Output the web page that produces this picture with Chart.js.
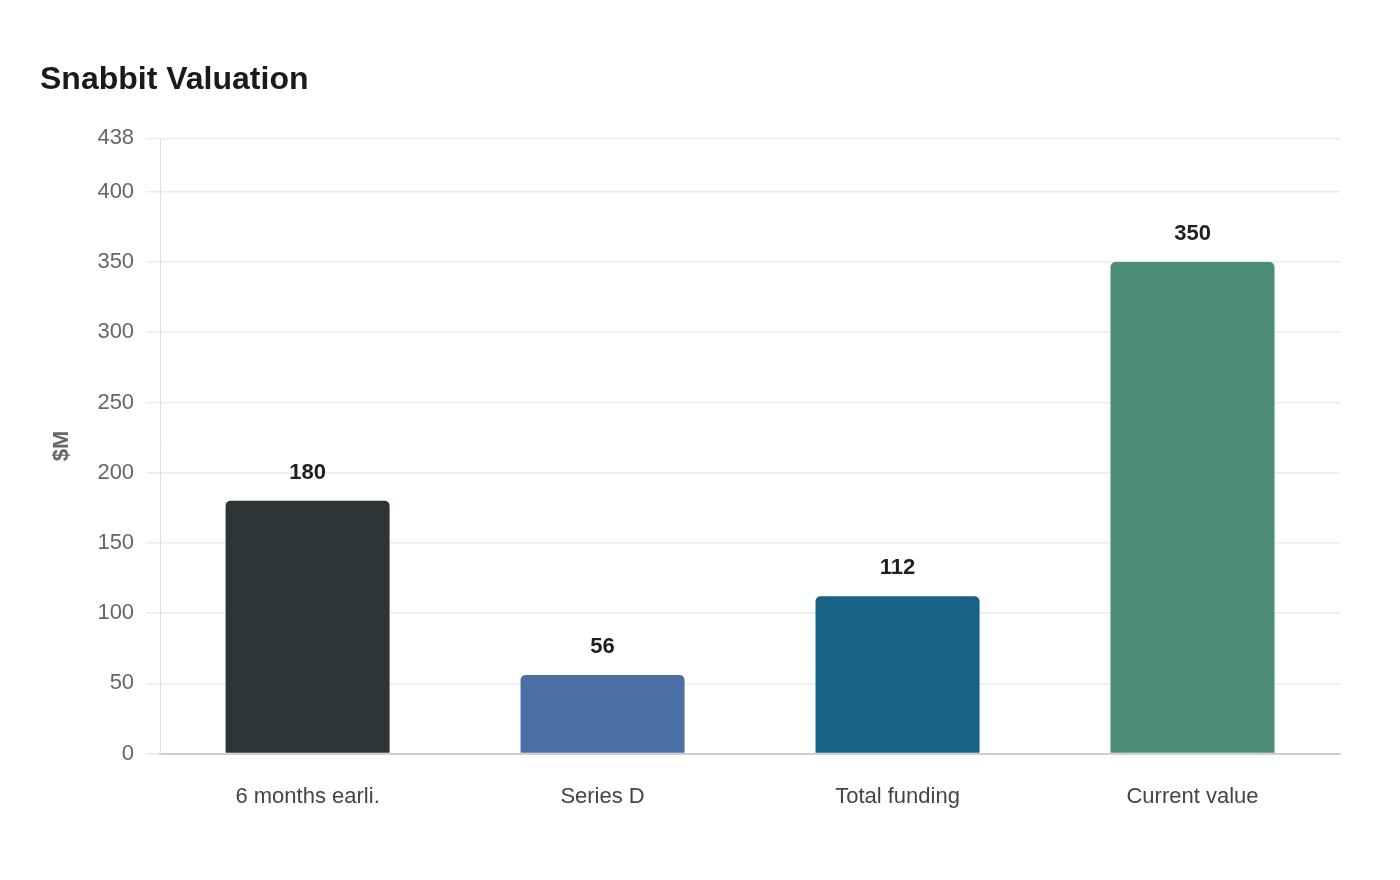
<!DOCTYPE html>
<html>
<head>
<meta charset="utf-8">
<script src="https://cdn.jsdelivr.net/npm/chart.js@4/dist/chart.umd.min.js"></script>
<style>
  html, body { margin: 0; padding: 0; background: #fff; }
  #wrap { width: 1400px; height: 880px; position: relative; }
</style>
</head>
<body>
<div id="wrap"><canvas id="myChart"></canvas></div>
<script>
// chart data
var labels = ["6 months earli.", "Series D", "Total funding", "Current value"];
var values = [180, 56, 112, 350];
var barColors = ["#2e3537", "#4a6fa5", "#186187", "#4e8c7a"];
var yMax = 438;

var FONT = "'Liberation Sans', Arial, sans-serif";

// value labels over each bar
var valueLabels = {
  id: "valueLabels",
  afterDatasetsDraw: function (chart) {
    var ctx = chart.ctx;
    var meta = chart.getDatasetMeta(0);
    ctx.save();
    ctx.font = "bold 22px " + FONT;
    ctx.fillStyle = "#1f1f1f";
    ctx.textAlign = "center";
    ctx.textBaseline = "middle";
    meta.data.forEach(function (bar, i) {
      ctx.fillText(values[i], bar.x, bar.y - 28);
    });
    ctx.restore();
  }
};

var ctx = document.getElementById("myChart").getContext("2d");
var myChart = new Chart(ctx, {
  type: "bar",
  data: {
    labels: labels,
    datasets: [
      {
        label: "Valuation",
        data: values,
        backgroundColor: barColors,
        borderRadius: { topLeft: 5, topRight: 5 },
        borderSkipped: false,
        categoryPercentage: 0.8,
        barPercentage: 0.695,
      },
    ],
  },
  options: {
    responsive: true,
    maintainAspectRatio: false,
    animation: false,
    layout: { padding: { left: 40, right: 60, top: 61, bottom: 48 } },
    plugins: {
      legend: { display: false },
      tooltip: { enabled: false },
      title: {
        display: true,
        text: "Snabbit Valuation",
        align: "start",
        color: "#1a1a1a",
        font: { family: FONT, size: 32, weight: "bold" },
        padding: { top: 0, bottom: 39 },
      },
    },
    scales: {
      x: {
        grid: { display: false },
        border: { display: true, color: "#cfcfcf", width: 2 },
        ticks: {
          color: "#444",
          padding: 22,
          font: { family: FONT, size: 22 },
        },
      },
      y: {
        min: 0,
        max: yMax,
        ticks: {
          stepSize: 50,
          color: "#666",
          padding: 12,
          font: { family: FONT, size: 22 },
        },
        grid: { color: "#ebebeb", lineWidth: 1.5, tickLength: 14 },
        border: { color: "#e0e0e0" },
        title: {
          display: true,
          text: "$M",
          color: "#666",
          padding: { top: 9, bottom: 10 },
          font: { family: FONT, size: 22, weight: "bold" },
        },
      },
    },
  },
  plugins: [valueLabels],
});
</script>
</body>
</html>
